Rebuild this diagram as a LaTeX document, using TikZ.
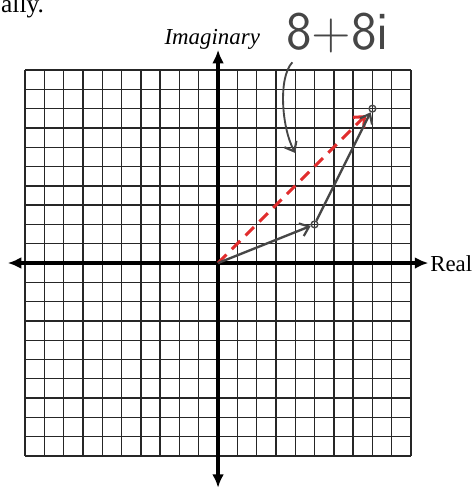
\documentclass[tikz,border=0pt]{standalone}
\usepackage{fontspec}
\setmainfont{Liberation Serif}
\usepackage{xcolor}
\usetikzlibrary{arrows.meta,positioning}

\definecolor{pen}{RGB}{70,70,70}
\definecolor{redpen}{RGB}{225,45,45}

\begin{document}
\begin{tikzpicture}[
  x=0.4cm, y=0.4cm,
  g/.style={line width=0.8pt, black!85},
  ax/.style={{Latex[length=8pt,width=7pt]}-{Latex[length=8pt,width=7pt]}, line width=2.3pt},
  v/.style={-{Straight Barb[length=5pt,width=8pt,line width=1.3pt]}, line width=1.4pt, pen},
  rd/.style={-{Straight Barb[length=5pt,width=9pt,line width=1.8pt]}, line width=1.8pt, redpen, dash pattern=on 7pt off 4.5pt},
  pt/.style={circle, draw=pen, line width=0.8pt, inner sep=0pt, minimum size=4pt},
  lbl/.style={font=\fontsize{13.5}{16}\selectfont}
]
  \useasboundingbox (-11.30,-11.97) rectangle (13.16,13.63);
  \foreach \k in {-10,...,10} {
    \draw[g] (\k,-10) -- (\k,10);
    \draw[g] (-10,\k) -- (10,\k);
  }
  \coordinate (xl) at (-10.9,0);
  \coordinate (xr) at (10.9,0);
  \coordinate (yt) at (0,11.05);
  \coordinate (yb) at (0,-11.65);
  \draw[ax] (xl) -- (xr);
  \draw[ax] (yb) -- (yt);
  \node[lbl, anchor=base, font=\fontsize{13.5}{16}\selectfont\itshape] (im) at (-0.3,11.3) {Imaginary};
  \node[lbl, anchor=base west, inner sep=0pt] (re) at (10.98,-0.42) {Real};
  \node[anchor=base east, inner sep=0pt, font=\fontsize{15}{18}\selectfont] (top) at (-9.0,13.0) {ally.};
  \coordinate (O) at (0,0);
  \node[pt] (z1) at (5,2) {};
  \node[pt] (z2) at (8,8) {};
  \draw[rd, shorten >=3pt] (O) -- (z2);
  \draw[v] (O) -- (z1);
  \draw[v] (z1) -- (z2);
  \node[font=\fontsize{32}{36}\selectfont\sffamily, text=pen] (sum) at (6.2,11.9) {8+8i};
  \coordinate (c1) at (3.85,10.4);
  \coordinate (c2) at (4.0,5.7);
  \draw[v, line width=1.1pt] (c1) .. controls (3.1,9.6) and (3.3,7.0) .. (c2);
\end{tikzpicture}
\end{document}
